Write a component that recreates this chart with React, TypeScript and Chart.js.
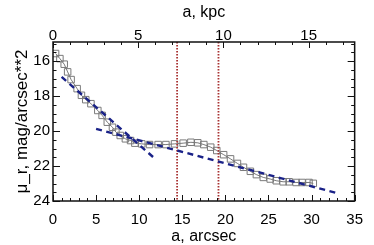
import { useEffect, useRef } from "react";
import { Chart, registerables } from "chart.js";

Chart.register(...registerables);

// Surface brightness profile (semi-major axis in arcsec, mu_r in mag/arcsec^2)
const radiusArcsec = [0.3, 0.8, 1.3, 1.7, 2.1, 2.8, 3.3, 3.8, 4.4, 5.2, 5.7, 6.3, 6.9, 7.3, 7.8, 8.4, 9.0, 9.5, 10.3, 11.2, 12.2, 13.1, 14.1, 15.1, 16.0, 16.8, 17.5, 18.3, 19.0, 19.8, 20.6, 21.4, 22.1, 22.9, 23.6, 24.4, 25.2, 25.9, 26.7, 27.4, 28.2, 28.9, 29.7, 30.2];
const muR = [15.56, 15.85, 16.17, 16.61, 17.05, 17.57, 17.95, 18.2, 18.43, 18.82, 19.1, 19.49, 19.78, 20.06, 20.25, 20.44, 20.54, 20.69, 20.73, 20.77, 20.77, 20.77, 20.73, 20.69, 20.64, 20.67, 20.77, 20.92, 21.11, 21.35, 21.59, 21.85, 22.07, 22.3, 22.49, 22.65, 22.74, 22.84, 22.9, 22.9, 22.94, 22.94, 22.94, 22.99];

// Exponential fits (dashed)
const fitInnerX = [1.0, 12.0];
const fitInnerY = [16.9, 21.65];
const fitOuterX = [5.0, 33.1];
const fitOuterY = [19.87, 23.57];

// Vertical markers (arcsec)
const breakX = [14.4, 19.2];

// Ticks
const xTicks = [0, 5, 10, 15, 20, 25, 30, 35];
const kpcTicks = [0, 5, 10, 15];
const yTicks = [16, 18, 20, 22, 24];

const yTitle = "μ_r, mag/arcsec**2";

const X_MIN = 0;
const X_MAX = 35;
const KPC_MAX = 17.7;
const Y_MIN = 14.9;
const Y_MAX = 24;

const FONT = "'Liberation Sans', Arial, Helvetica, sans-serif";

const framePlugin = {
  id: "frameTicks",
  afterDatasetsDraw(chart: any) {
    const { ctx, chartArea: a, scales } = chart;
    const x = scales.x;
    const x2 = scales.x2;
    const y = scales.y;
    ctx.save();
    ctx.strokeStyle = "#111";
    ctx.lineWidth = 1;
    ctx.beginPath();
    for (let i = 0; i <= 35; i++) {
      const v = X_MIN + i;
      if (v > X_MAX) break;
      const px = Math.round(x.getPixelForValue(v)) + 0.5;
      const len = v % 5 === 0 ? 6 : 3;
      ctx.moveTo(px, a.bottom);
      ctx.lineTo(px, a.bottom - len);
    }
    for (let i = 0; i <= 17; i++) {
      const px = Math.round(x2.getPixelForValue(i)) + 0.5;
      const len = i % 5 === 0 ? 6 : 3;
      ctx.moveTo(px, a.top);
      ctx.lineTo(px, a.top + len);
    }
    for (let i = 0; i <= 18; i++) {
      const v = 15 + i * 0.5;
      if (v > Y_MAX + 1e-6) break;
      const py = Math.round(y.getPixelForValue(v)) + 0.5;
      const major = Math.abs(v % 2) < 1e-6;
      const len = major ? 7 : 3.5;
      ctx.moveTo(a.left, py);
      ctx.lineTo(a.left + len, py);
      ctx.moveTo(a.right, py);
      ctx.lineTo(a.right - len, py);
    }
    ctx.stroke();
    ctx.lineWidth = 1.5;
    ctx.strokeRect(a.left, a.top, a.right - a.left, a.bottom - a.top);

    // y axis title, rotated, centred on the plot area
    ctx.fillStyle = "#000";
    ctx.font = `17px ${FONT}`;
    ctx.textAlign = "center";
    ctx.textBaseline = "middle";
    ctx.translate(22, (a.top + a.bottom) / 2);
    ctx.rotate(-Math.PI / 2);
    ctx.fillText(yTitle, 0, 0);
    ctx.restore();
  },
};

export default function App() {
  const ref = useRef<HTMLCanvasElement | null>(null);

  useEffect(() => {
    if (!ref.current) return;
    const profile = radiusArcsec.map((r, i) => ({ x: r, y: muR[i] }));
    const inner = fitInnerX.map((v, i) => ({ x: v, y: fitInnerY[i] }));
    const outer = fitOuterX.map((v, i) => ({ x: v, y: fitOuterY[i] }));
    const breaks = breakX.map((b) => ({
      label: "break",
      data: [
        { x: b, y: Y_MIN },
        { x: b, y: Y_MAX },
      ],
      showLine: true,
      borderColor: "#a83232",
      borderWidth: 1.8,
      borderDash: [1.5, 1.5],
      pointRadius: 0,
      fill: false,
      order: 1,
    }));

    const chart = new Chart(ref.current, {
      type: "scatter",
      data: {
        datasets: [
          {
            label: "profile",
            data: profile,
            showLine: true,
            borderColor: "#555",
            borderWidth: 0.8,
            pointStyle: "rect",
            pointRadius: 4.6,
            pointBorderColor: "#7a7a7a",
            pointBackgroundColor: "rgba(0,0,0,0)",
            pointBorderWidth: 1,
            order: 3,
          } as any,
          ...(breaks as any),
          {
            label: "inner",
            data: inner,
            showLine: true,
            borderColor: "#1a2288",
            borderWidth: 2.4,
            borderDash: [6, 4.5],
            pointRadius: 0,
            order: 0,
          } as any,
          {
            label: "outer",
            data: outer,
            showLine: true,
            borderColor: "#1a2288",
            borderWidth: 2.4,
            borderDash: [6, 4.5],
            pointRadius: 0,
            order: 0,
          } as any,
        ],
      },
      options: {
        animation: false,
        responsive: false,
        devicePixelRatio: 1,
        layout: { padding: { left: 0, right: 14, top: 0, bottom: 0 } },
        plugins: {
          legend: { display: false },
          tooltip: { enabled: false },
        },
        scales: {
          x: {
            type: "linear",
            position: "bottom",
            min: X_MIN,
            max: X_MAX,
            afterBuildTicks: (s: any) => {
              s.ticks = xTicks.map((v) => ({ value: v }));
            },
            afterFit: (s: any) => {
              s.height = 44;
            },
            ticks: {
              color: "#000",
              font: { family: FONT, size: 15, lineHeight: 1 },
              padding: 11,
              maxRotation: 0,
              autoSkip: false,
            },
            grid: { display: false, drawTicks: false },
            border: { display: false },
            title: {
              display: true,
              text: "a, arcsec",
              color: "#000",
              font: { family: FONT, size: 16, lineHeight: 1 },
              padding: { top: 0, bottom: 0 },
            },
          },
          x2: {
            type: "linear",
            position: "top",
            min: 0,
            max: KPC_MAX,
            afterBuildTicks: (s: any) => {
              s.ticks = kpcTicks.map((v) => ({ value: v }));
            },
            afterFit: (s: any) => {
              s.height = 42;
            },
            ticks: {
              color: "#000",
              font: { family: FONT, size: 15, lineHeight: 1 },
              padding: -1,
              maxRotation: 0,
              autoSkip: false,
            },
            grid: { display: false, drawTicks: false },
            border: { display: false },
            title: {
              display: true,
              text: "a, kpc",
              color: "#000",
              font: { family: FONT, size: 16, lineHeight: 1 },
              padding: { top: 4.5, bottom: 0 },
            },
          },
          y: {
            type: "linear",
            position: "left",
            reverse: true,
            min: Y_MIN,
            max: Y_MAX,
            afterBuildTicks: (s: any) => {
              s.ticks = yTicks.map((v) => ({ value: v }));
            },
            afterFit: (s: any) => {
              s.width = 53;
            },
            ticks: {
              color: "#000",
              font: { family: FONT, size: 15, lineHeight: 1 },
              padding: 3,
              autoSkip: false,
            },
            grid: { display: false, drawTicks: false },
            border: { display: false },
            title: { display: false },
          },
        },
      } as any,
      plugins: [framePlugin],
    });
    return () => chart.destroy();
  }, []);

  return (
    <div style={{ position: "absolute", left: 0, top: 0, width: 374, height: 245, background: "#fff" }}>
      <canvas ref={ref} width={374} height={245} style={{ display: "block" }} />
    </div>
  );
}
